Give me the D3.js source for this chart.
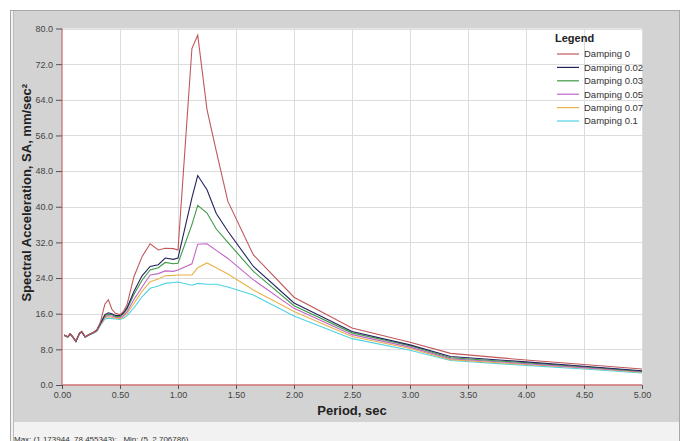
<!DOCTYPE html>
<html>
<head>
<meta charset="utf-8">
<script src="https://cdn.jsdelivr.net/npm/d3@7/dist/d3.min.js"></script>
<style>
	body { margin: 0; background: #fff; }
	svg { display: block; font-family: "Liberation Sans", Arial, sans-serif; }
</style>
</head>
<body>
<div id="plot"></div>
<script>

var periods = [0.02,0.05,0.07,0.09,0.12,0.15,0.17,0.20,0.23,0.27,0.30,0.33,0.37,0.40,0.43,0.46,0.50,0.53,0.56,0.62,0.69,0.76,0.83,0.89,0.96,1.00,1.12,1.17,1.25,1.33,1.43,1.65,2.00,2.50,3.00,3.35,4.00,4.50,5.00];

var damping0   = [11.2,10.8,11.5,10.9,9.8,11.6,12.0,10.8,11.3,11.8,12.4,14.0,18.2,19.1,17.0,16.1,15.8,16.5,18.0,24.3,28.8,31.7,30.3,30.7,30.6,30.3,75.5,78.5,61.8,52.5,41.2,29.2,19.7,12.8,9.6,7.1,5.6,4.6,3.6];
var damping002 = [11.2,10.8,11.5,10.9,9.8,11.6,12.0,10.8,11.3,11.8,12.3,13.8,15.8,16.2,16.0,15.6,15.6,16.2,17.3,21.0,24.5,26.6,27.0,28.5,28.2,28.5,42.0,47.0,43.8,38.5,34.5,26.6,18.4,12.0,9.0,6.4,5.2,4.2,3.2];
var damping003 = [11.2,10.8,11.5,10.9,9.8,11.6,12.0,10.8,11.3,11.8,12.3,13.7,15.6,15.9,15.8,15.4,15.4,16.0,17.0,20.3,23.5,25.8,26.3,27.5,27.2,27.3,36.0,40.3,38.6,35.0,32.0,25.5,17.8,11.7,8.8,6.1,5.0,4.1,3.1];
var damping005 = [11.1,10.8,11.4,10.8,9.8,11.5,11.9,10.8,11.2,11.7,12.2,13.6,15.3,15.6,15.5,15.2,15.1,15.6,16.4,19.2,22.0,24.7,25.0,25.6,25.5,25.8,27.2,31.6,31.7,30.2,28.4,23.6,17.2,11.3,8.5,5.9,4.8,3.9,3.0];
var damping007 = [11.1,10.7,11.4,10.8,9.8,11.5,11.9,10.7,11.2,11.7,12.1,13.5,15.1,15.3,15.2,15.0,14.9,15.3,16.0,18.3,21.0,23.2,23.8,24.5,24.6,24.7,24.7,26.3,27.4,26.3,24.9,21.3,16.5,10.9,8.2,5.7,4.6,3.8,2.85];
var damping01  = [11.0,10.7,11.3,10.8,9.7,11.4,11.8,10.7,11.1,11.6,12.0,13.3,14.8,15.0,14.9,14.8,14.7,15.0,15.5,17.3,19.8,21.7,22.2,22.8,23.0,23.1,22.4,22.8,22.6,22.6,22.0,20.2,15.5,10.4,7.8,5.5,4.4,3.6,2.7];

var seriesNames = ["Damping 0","Damping 0.02","Damping 0.03","Damping 0.05","Damping 0.07","Damping 0.1"];
var seriesValues = [damping0, damping002, damping003, damping005, damping007, damping01];
var seriesColors = ["#c0585a","#23235e","#3c9a46","#c264c8","#e8b24a","#4fd2e2"];

var xTicks = [0,0.5,1,1.5,2,2.5,3,3.5,4,4.5,5];
var yTicks = [0,8,16,24,32,40,48,56,64,72,80];

var svgW = 684, svgH = 441;
var plotL = 62, plotR = 642, plotT = 28.5, plotB = 385;

var svg = d3.select("#plot").append("svg")
	.attr("width", svgW)
	.attr("height", svgH);

// outer frame + grey panel
svg.append("rect").attr("x", 10.5).attr("y", 10.5).attr("width", 669).attr("height", 440)
	.attr("fill", "#f2f2f2").attr("stroke", "#a8a8a8");
svg.append("rect").attr("x", 13).attr("y", 11).attr("width", 666).attr("height", 411)
	.attr("fill", "#d3d3d3");
svg.append("line").attr("x1", 13.5).attr("x2", 13.5).attr("y1", 11).attr("y2", 441)
	.attr("stroke", "#bdbdbd");

var x = d3.scaleLinear().domain([0, 5]).range([plotL, plotR]);
var y = d3.scaleLinear().domain([0, 80]).range([plotB, plotT]);

svg.append("rect").attr("x", plotL).attr("y", plotT).attr("width", plotR - plotL).attr("height", plotB - plotT)
	.attr("fill", "#fff");

// grid
svg.append("g").selectAll("line").data(xTicks.slice(1)).enter().append("line")
	.attr("x1", function(d){ return Math.round(x(d)) + 0.5; }).attr("x2", function(d){ return Math.round(x(d)) + 0.5; })
	.attr("y1", plotT).attr("y2", plotB)
	.attr("stroke", "#dcdcdc");
svg.append("g").selectAll("line").data(yTicks.slice(1)).enter().append("line")
	.attr("y1", function(d){ return Math.round(y(d)) + 0.5; }).attr("y2", function(d){ return Math.round(y(d)) + 0.5; })
	.attr("x1", plotL).attr("x2", plotR)
	.attr("stroke", "#dcdcdc");

// axes
var xAxis = svg.append("g").attr("transform", "translate(0," + plotB + ")")
	.call(d3.axisBottom(x).tickValues(xTicks).tickFormat(d3.format(".2f")).tickSize(4).tickPadding(3));
var yAxis = svg.append("g").attr("transform", "translate(" + plotL + ",0)")
	.call(d3.axisLeft(y).tickValues(yTicks).tickFormat(d3.format(".1f")).tickSize(6).tickPadding(3));

[xAxis, yAxis].forEach(function(a){
	a.select(".domain").attr("stroke", "#d07070").attr("stroke-width", 1.3);
	a.selectAll(".tick line").attr("stroke", "#555");
	a.selectAll(".tick text").attr("fill", "#444").style("font-size", "9px")
		.style("font-family", "'Liberation Sans', Arial, sans-serif");
});
yAxis.select(".domain").attr("d", "M0," + plotT + "V" + plotB);
xAxis.select(".domain").attr("d", "M" + plotL + ",0H" + plotR);

// titles
svg.append("text").text("Period, sec")
	.attr("x", (plotL + plotR) / 2).attr("y", 415)
	.attr("text-anchor", "middle")
	.style("font-size", "13px").style("font-weight", "bold").attr("fill", "#222");

svg.append("text").text("Spectral Acceleration, SA, mm/sec\u00b2")
	.attr("transform", "translate(31," + ((plotT + plotB) / 2 - 14) + ") rotate(-90)")
	.attr("text-anchor", "middle")
	.style("font-size", "13px").style("font-weight", "bold").attr("fill", "#222");

// lines
var line = d3.line()
	.x(function(d, i){ return x(periods[i]); })
	.y(function(d){ return y(d); });

for (var i = seriesValues.length - 1; i >= 0; i--) {
	svg.append("path")
		.datum(seriesValues[i])
		.attr("d", line)
		.attr("fill", "none")
		.attr("stroke", seriesColors[i])
		.attr("stroke-width", 1.1);
}

// legend
var legend = svg.append("g");
legend.append("text").text("Legend")
	.attr("x", 555).attr("y", 42)
	.style("font-size", "11px").style("font-weight", "bold").attr("fill", "#222");

for (var j = 0; j < seriesNames.length; j++) {
	var ly = 54 + j * 13.4;
	legend.append("line")
		.attr("x1", 557).attr("x2", 579).attr("y1", ly).attr("y2", ly)
		.attr("stroke", seriesColors[j]).attr("stroke-width", 1.2);
	legend.append("text").text(seriesNames[j])
		.attr("x", 584).attr("y", ly + 3.3)
		.style("font-size", "9.5px").attr("fill", "#333");
}

// footer
svg.append("text").text("Max: (1.173944, 78.455343);   Min: (5, 2.706786)")
	.attr("x", 14).attr("y", 442)
	.attr("xml:space", "preserve")
	.style("font-size", "8px").attr("fill", "#333");

</script>
</body>
</html>
